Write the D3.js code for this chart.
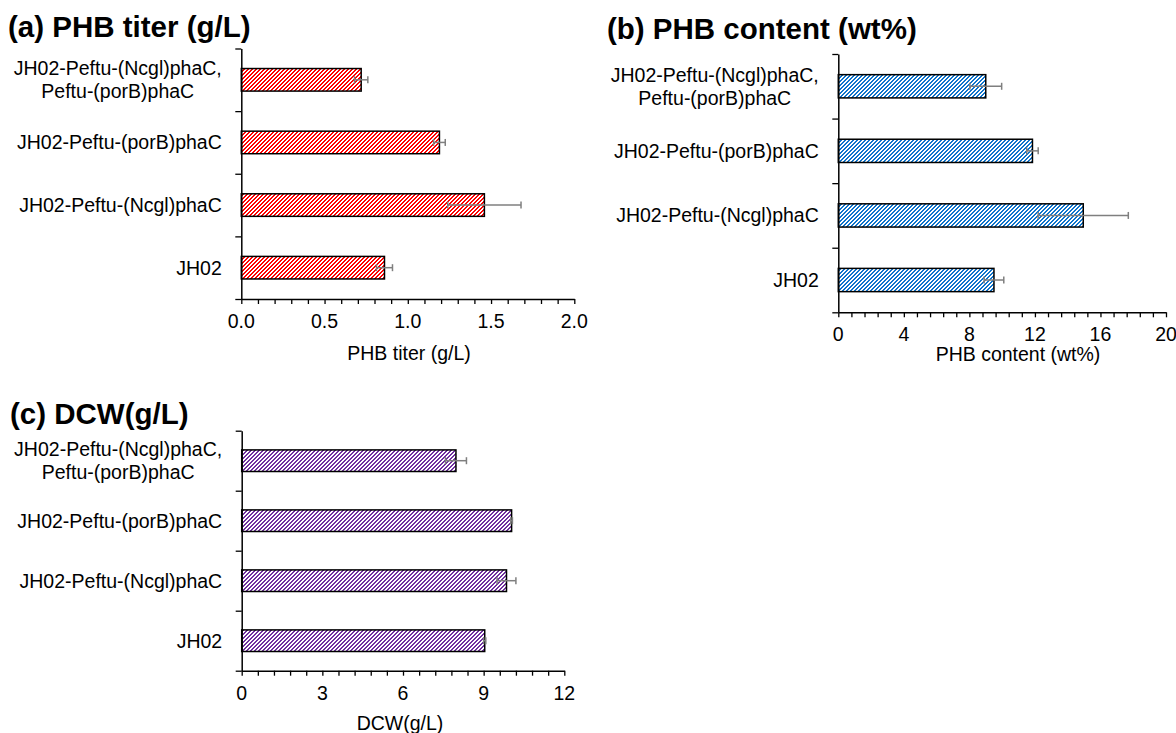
<!DOCTYPE html>
<html>
<head>
<meta charset="utf-8">
<script src="https://cdn.jsdelivr.net/npm/d3@7"></script>
<style>
  html, body { margin: 0; padding: 0; background: #fff; }
  svg { display: block; font-family: "Liberation Sans", Arial, sans-serif; }
</style>
</head>
<body>
<svg id="chart" width="1176" height="733"></svg>
<script>
// Strains, top to bottom
const strains = [
  "JH02-Peftu-(Ncgl)phaC,\nPeftu-(porB)phaC",
  "JH02-Peftu-(porB)phaC",
  "JH02-Peftu-(Ncgl)phaC",
  "JH02"
];

// (a) PHB titer, g/L
const titerMean = [0.72, 1.19, 1.46, 0.86];
const titerErr  = [0.04, 0.035, 0.22, 0.048];

// (b) PHB content, wt%
const contentMean = [9.0, 11.85, 14.95, 9.5];
const contentErr  = [0.97, 0.35, 2.75, 0.6];

// (c) Dry cell weight, g/L
const dcwMean = [7.97, 10.04, 9.85, 9.04];
const dcwErr  = [0.39, 0.03, 0.35, 0.04];

// Axis tick labels
const titerTicks   = ["0.0", "0.5", "1.0", "1.5", "2.0"];
const contentTicks = ["0", "4", "8", "12", "16", "20"];
const dcwTicks     = ["0", "3", "6", "9", "12"];

const svg = d3.select("#chart");
const defs = svg.append("defs");

// Pixel-crisp "/" hatch: 2 coloured + 2 white pixels per row, shifted each row
function hatch(id, color) {
  const p = defs.append("pattern")
    .attr("id", id)
    .attr("patternUnits", "userSpaceOnUse")
    .attr("width", 4).attr("height", 4);
  p.append("rect").attr("width", 4).attr("height", 4).attr("fill", "#fff");
  const cells = [];
  for (let r = 0; r < 4; r++)
    for (let c = 0; c < 4; c++)
      if ((c + r) % 4 < 2) cells.push([c, r]);
  p.selectAll("rect.px").data(cells).join("rect")
    .attr("class", "px")
    .attr("x", d => d[0]).attr("y", d => d[1])
    .attr("width", 1).attr("height", 1)
    .attr("fill", color)
    .attr("shape-rendering", "crispEdges");
}
hatch("hatch-red", "#ff0000");
hatch("hatch-blue", "#0f74cc");
hatch("hatch-purple", "#7030a0");

function panel(cfg) {
  const g = svg.append("g");
  const tickNums = cfg.ticks.map(Number);
  const max = tickNums[tickNums.length - 1];
  const major = tickNums[1] - tickNums[0];
  const minor = major / 5;

  const x = d3.scaleLinear().domain([0, max]).range([cfg.x0, cfg.x1]);
  const y = d3.scaleBand().domain(strains).range([cfg.top, cfg.bottom])
    .paddingInner(0.64).paddingOuter(0.32);
  const yEdge = d3.scaleLinear().domain([0, strains.length]).range([cfg.top, cfg.bottom]);

  // Title
  g.append("text")
    .attr("x", cfg.titleX).attr("y", cfg.titleY)
    .attr("font-size", 29.5).attr("font-weight", "bold")
    .attr("fill", "#000")
    .text(cfg.title);

  // Bars
  const rows = strains.map((s, i) => ({ s, v: cfg.mean[i], e: cfg.err[i] }));
  g.selectAll("rect.bar").data(rows).join("rect")
    .attr("class", "bar")
    .attr("x", x(0))
    .attr("y", d => y(d.s))
    .attr("width", d => x(d.v) - x(0))
    .attr("height", y.bandwidth())
    .attr("fill", `url(#${cfg.fill})`)
    .attr("stroke", "#000").attr("stroke-width", 1.5);

  // Error bars
  const eb = g.selectAll("g.err").data(rows).join("g")
    .attr("class", "err")
    .attr("stroke", "#7f7f7f").attr("stroke-width", 1.5);
  eb.append("line")
    .attr("x1", d => x(d.v - d.e)).attr("x2", d => x(d.v + d.e))
    .attr("y1", d => y(d.s) + y.bandwidth() / 2)
    .attr("y2", d => y(d.s) + y.bandwidth() / 2);
  [-1, 1].forEach(sgn => {
    eb.append("line")
      .attr("x1", d => x(d.v + sgn * d.e)).attr("x2", d => x(d.v + sgn * d.e))
      .attr("y1", d => y(d.s) + y.bandwidth() / 2 - 3.5)
      .attr("y2", d => y(d.s) + y.bandwidth() / 2 + 3.5);
  });

  // X axis with minor ticks every fifth of a major step
  const tickVals = d3.range(0, 5 * (tickNums.length - 1) + 1).map(i => i * minor);
  const xAxis = d3.axisBottom(x)
    .tickValues(tickVals)
    .tickSize(5)
    .tickSizeOuter(0)
    .tickFormat(() => "");
  const xa = g.append("g")
    .attr("transform", `translate(0,${cfg.bottom})`)
    .call(xAxis);
  xa.select(".domain").attr("stroke", "#000").attr("stroke-width", 1.5);
  xa.selectAll(".tick line").attr("stroke", "#000").attr("stroke-width", 1.3);

  g.selectAll("text.xtick").data(cfg.ticks).join("text")
    .attr("class", "xtick")
    .attr("x", d => x(+d))
    .attr("y", cfg.bottom + 29)
    .attr("text-anchor", "middle")
    .attr("font-size", 19.5).attr("fill", "#000")
    .text(d => d);

  // Axis title
  g.append("text")
    .attr("x", cfg.axisTitleX)
    .attr("y", cfg.bottom + cfg.axisTitleDy)
    .attr("text-anchor", "middle")
    .attr("font-size", 19.5).attr("fill", "#000")
    .text(cfg.axisTitle);

  // Y axis with ticks on category boundaries
  const ya = g.append("g")
    .attr("transform", `translate(${cfg.x0},0)`)
    .call(d3.axisLeft(yEdge).tickValues(d3.range(0, strains.length + 1))
      .tickSize(6).tickSizeOuter(0).tickFormat(""));
  ya.select(".domain").attr("stroke", "#000").attr("stroke-width", 1.5);
  ya.selectAll(".tick line").attr("stroke", "#000").attr("stroke-width", 1.3);

  // Category labels, multi-line ones centred within their block
  const lh = 23.3;
  strains.forEach(s => {
    const lines = s.split("\n");
    const cy = y(s) + y.bandwidth() / 2;
    const t = g.append("text")
      .attr("font-size", 19.5).attr("fill", "#000")
      .attr("text-anchor", "middle");
    lines.forEach((ln, k) => {
      t.append("tspan")
        .attr("x", 0)
        .attr("y", cy + (k - (lines.length - 1) / 2) * lh + 7)
        .text(ln);
    });
    // right-align the whole block against the axis
    const w = t.node().getBBox().width;
    t.selectAll("tspan").attr("x", cfg.x0 - 19.5 - w / 2);
  });
}

panel({
  title: "(a) PHB titer (g/L)", titleX: 8, titleY: 37,
  x0: 241.3, x1: 574.3, top: 48.5, bottom: 299,
  mean: titerMean, err: titerErr, ticks: titerTicks,
  fill: "hatch-red",
  axisTitle: "PHB titer (g/L)", axisTitleX: 409, axisTitleDy: 61
});

panel({
  title: "(b) PHB content (wt%)", titleX: 607, titleY: 39,
  x0: 838.3, x1: 1166, top: 54, bottom: 312.3,
  mean: contentMean, err: contentErr, ticks: contentTicks,
  fill: "hatch-blue",
  axisTitle: "PHB content (wt%)", axisTitleX: 1018, axisTitleDy: 49
});

panel({
  title: "(c) DCW(g/L)", titleX: 10, titleY: 424,
  x0: 241.7, x1: 564.3, top: 430.7, bottom: 670.7,
  mean: dcwMean, err: dcwErr, ticks: dcwTicks,
  fill: "hatch-purple",
  axisTitle: "DCW(g/L)", axisTitleX: 400, axisTitleDy: 59
});
</script>
</body>
</html>
